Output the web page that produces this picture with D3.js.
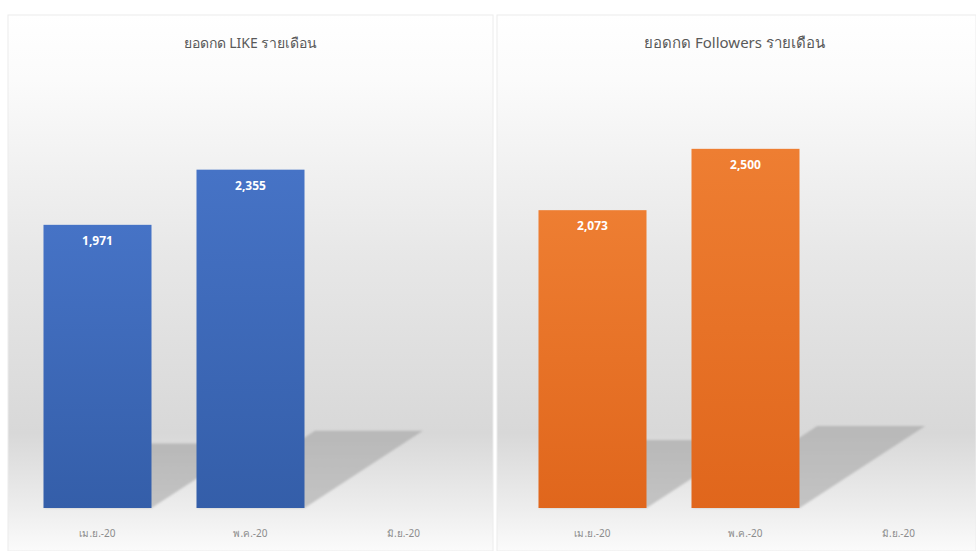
<!DOCTYPE html>
<html><head><meta charset="utf-8">
<script src="https://cdn.jsdelivr.net/npm/d3@7"></script>
<style>html,body{margin:0;padding:0;background:#fff;}svg{display:block;}</style>
</head><body>
<svg id="c" width="976" height="551"></svg>
<script>
const categories = ["เม.ย.-20", "พ.ค.-20", "มิ.ย.-20"];
const likeValues = [1971, 2355, null];
const followerValues = [2073, 2500, null];
const titles = ["ยอดกด LIKE รายเดือน", "ยอดกด Followers รายเดือน"];
const yMax = 3000;

const svg = d3.select("#c");
const defs = svg.append("defs");

const bg = defs.append("linearGradient").attr("id","bg").attr("x1",0).attr("x2",0).attr("y1",0).attr("y2",1);
[[0,"#ffffff"],[0.12,"#fbfbfb"],[0.45,"#e7e7e7"],[0.78,"#d8d8d8"],[0.92,"#ededed"],[1,"#fbfbfb"]]
  .forEach(([o,c])=>bg.append("stop").attr("offset",o).attr("stop-color",c));

function barGrad(id, top, bottom){
  const g = defs.append("linearGradient").attr("id",id).attr("x1",0).attr("x2",0).attr("y1",0).attr("y2",1);
  g.append("stop").attr("offset",0).attr("stop-color",top);
  g.append("stop").attr("offset",1).attr("stop-color",bottom);
}
barGrad("gBlue","#4673c6","#345ea9");
barGrad("gOrange","#ee7e32","#e0661c");

const sg = defs.append("linearGradient").attr("id","shadowG").attr("x1",0).attr("x2",0).attr("y1",0).attr("y2",1);
sg.append("stop").attr("offset",0).attr("stop-color","#b8b8b8");
sg.append("stop").attr("offset",1).attr("stop-color","#c4c4c4");
defs.append("filter").attr("id","blur").attr("x","-10%").attr("y","-10%").attr("width","120%").attr("height","120%")
  .append("feGaussianBlur").attr("stdDeviation",1.2);

const panels = [
  {x0:8, x1:493, inset:13, values:likeValues, fill:"url(#gBlue)", title:titles[0]},
  {x0:497, x1:976, inset:19, values:followerValues, fill:"url(#gOrange)", title:titles[1]}
];

const plotTop = 77, plotBottom = 508;
const y = d3.scaleLinear().domain([0,yMax]).range([plotBottom, plotTop]);

panels.forEach((p,pi)=>{
  const g = svg.append("g");
  g.append("rect").attr("x",p.x0).attr("y",15).attr("width",p.x1-p.x0).attr("height",551-15)
    .attr("fill","url(#bg)").attr("stroke","#ececec").attr("stroke-width",1);

  const px0 = p.x0 + p.inset, px1 = px0 + 459;
  const x = d3.scaleBand().domain(categories).range([px0, px1]).paddingInner(0.2941).paddingOuter(0.147);

  g.append("text").attr("x",(p.x0+p.x1)/2 + (pi===0?0:-2)).attr("y",48)
    .attr("text-anchor","middle").attr("font-family","'Noto Sans', 'Open Sans', sans-serif")
    .attr("font-size",pi===0?14:15).attr("fill","#595959").text(p.title);

  const data = categories.map((c,i)=>({c, v:p.values[i]})).filter(d=>d.v!=null);

  g.selectAll("path.shadow").data(data).join("path")
    .attr("fill","url(#shadowG)").attr("filter","url(#blur)")
    .attr("d", d=>{
      const bx0 = x(d.c), bx1 = x(d.c)+x.bandwidth();
      const h = y(0)-y(d.v);
      const sh = h*0.228, dx = h*0.35;
      return `M${bx0},${y(0)} L${bx0+dx},${y(0)-sh} L${bx1+dx},${y(0)-sh} L${bx1},${y(0)} Z`;
    });

  g.selectAll("rect.bar").data(data).join("rect")
    .attr("x",d=>x(d.c)).attr("width",x.bandwidth())
    .attr("y",d=>y(d.v)).attr("height",d=>y(0)-y(d.v)).attr("fill",p.fill);

  g.selectAll("text.val").data(data).join("text")
    .attr("x",d=>x(d.c)+x.bandwidth()/2).attr("y",d=>y(d.v)+20)
    .attr("text-anchor","middle").attr("font-family","'Open Sans', 'Noto Sans', sans-serif")
    .attr("font-weight","bold").attr("font-size",12).attr("fill","#ffffff")
    .text(d=>d3.format(",")(d.v));

  g.selectAll("text.cat").data(categories).join("text")
    .attr("x",d=>x(d)+x.bandwidth()/2).attr("y",537)
    .attr("text-anchor","middle").attr("font-family","'Noto Sans', sans-serif")
    .attr("font-size",10).attr("fill","#8c8c8c").text(d=>d);
});
</script>
</body></html>
